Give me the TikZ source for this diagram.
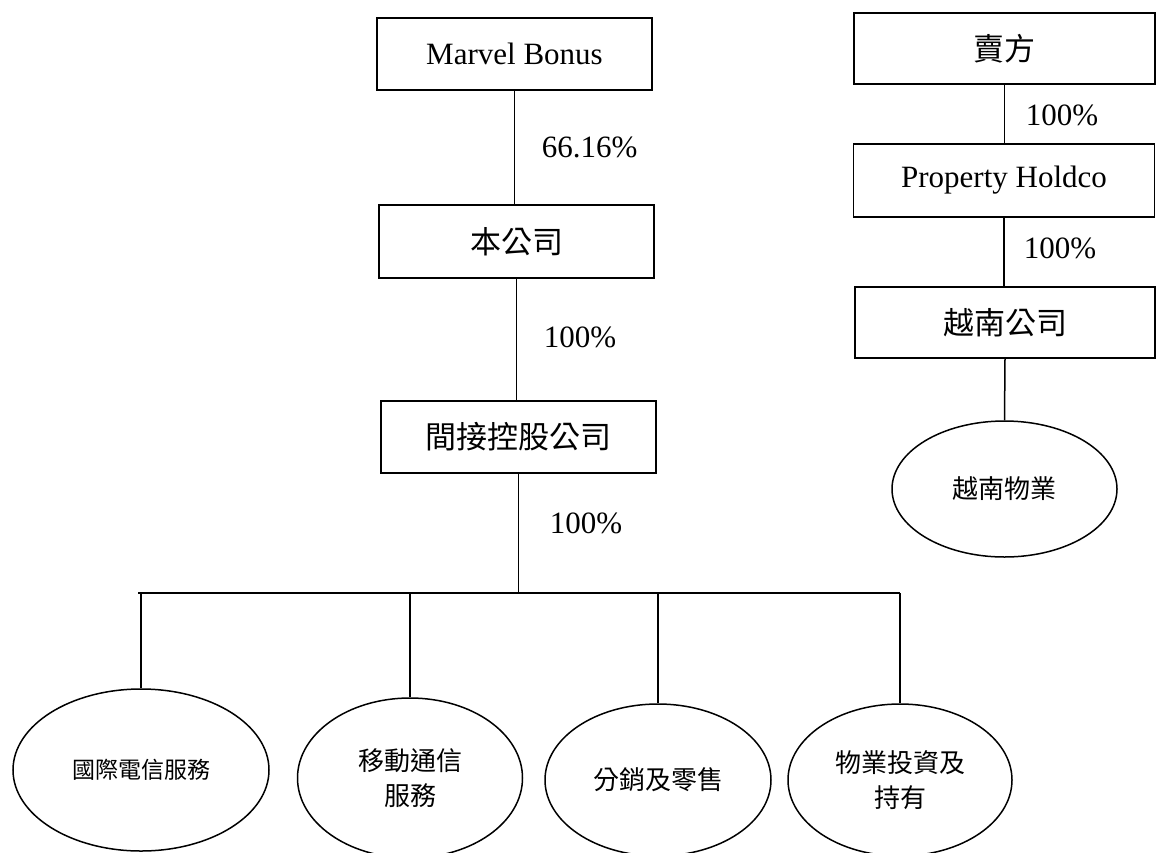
\documentclass[tikz,border=0pt]{standalone}
\usepackage{fontspec}
\setmainfont{Liberation Serif}
\newfontfamily\cjk{Noto Sans CJK TC}
\usetikzlibrary{shapes.geometric}
\begin{document}
\begin{tikzpicture}[x=1pt,y=-1pt,line width=1.5pt,
  box/.style={draw,rectangle,inner sep=0pt,minimum height=72pt,font=\fontsize{31}{36}\selectfont},
  lbox/.style={box,minimum width=275pt},
  rbox/.style={box,minimum width=301pt},
  ell/.style={draw,ellipse,inner sep=0pt,align=center,font=\cjk\fontsize{26}{35}\selectfont},
  pct/.style={anchor=west,inner sep=0pt,font=\fontsize{31}{36}\selectfont}]
\path[use as bounding box] (0,0) rectangle (1157,852);
\clip (0,0) rectangle (1157,852);
% left column
\node[lbox] (mb) at (514.5,54) {Marvel Bonus};
\node[lbox,minimum height=73pt] (bg) at (516.5,241.5) {\cjk 本公司};
\node[lbox] (ih) at (518.5,437) {\cjk 間接控股公司};
\node[pct] (p1) at (541,147) {66.16\%};
\node[pct] (p2) at (543,337) {100\%};
\node[pct] (p3) at (549,523) {100\%};
% right column
\node[rbox,minimum height=71pt] (sel) at (1004.5,48.5) {\cjk 賣方};
\node[rbox,minimum height=73pt] (ph) at (1004,180.5) {Property Holdco};
\node[rbox,minimum height=71pt,minimum width=300pt] (vn) at (1005,322.5) {\cjk 越南公司};
\node[pct] (p4) at (1025,115) {100\%};
\node[pct] (p5) at (1023,248) {100\%};
\node[ell,minimum width=225pt,minimum height=136pt] (vp) at (1004.5,489) {越南物業};
% bottom ellipses
\node[ell,minimum width=256pt,minimum height=162pt,font=\cjk\fontsize{23}{32}\selectfont] (e1) at (141,770) {國際電信服務};
\node[ell,minimum width=225pt,minimum height=160pt] (e2) at (410,778) {移動通信\\服務};
\node[ell,minimum width=226pt,minimum height=152pt] (e3) at (658,780) {分銷及零售};
\node[ell,minimum width=224pt,minimum height=152pt] (e4) at (900,780) {物業投資及\\持有};
\coordinate (bus) at (519,593);
% connectors
\draw (mb.south) -- (mb.south |- bg.north);
\draw (bg.south) -- (bg.south |- ih.north);
\draw (ih.south) -- (ih.south |- bus);
\draw ([xshift=-3pt]e1.north |- bus) -- (e4.north |- bus);
\foreach \e in {e1,e2,e3,e4} \draw (\e.north |- bus) -- (\e.north);
\draw (sel.south) -- (sel.south |- ph.north);
\draw (ph.south) -- (ph.south |- vn.north);
\draw (vn.south) -- (vp.north);
\end{tikzpicture}
\end{document}
